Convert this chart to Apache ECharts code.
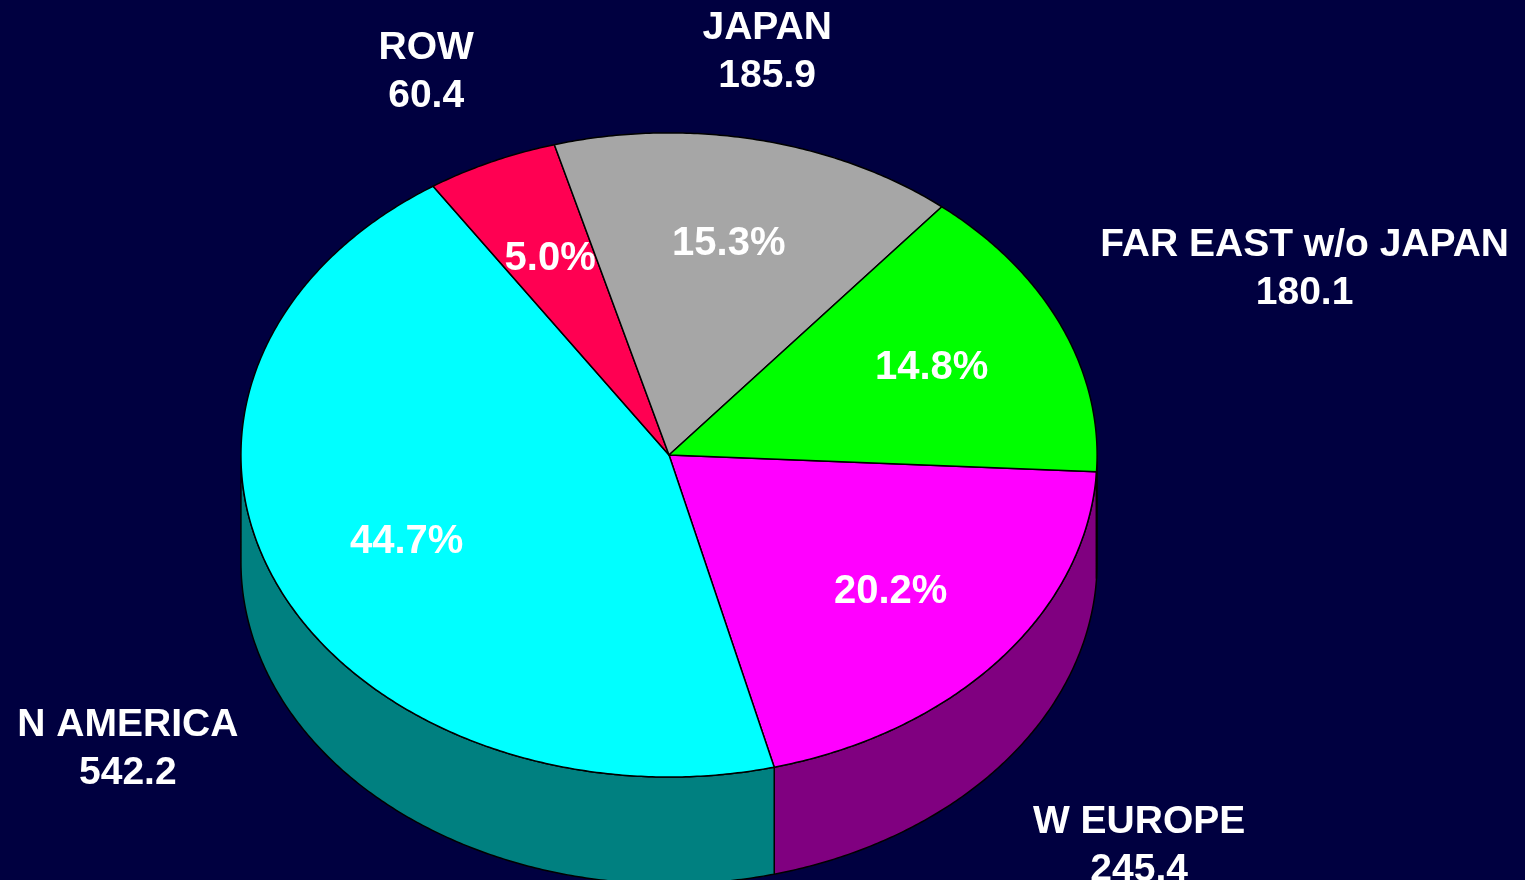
<!DOCTYPE html>
<html>
<head>
<meta charset="utf-8">
<script src="https://cdn.jsdelivr.net/npm/echarts@6/dist/echarts.min.js"></script>
<style>
  html, body { margin: 0; padding: 0; background: #000040; }
  #chartmain { width: 1525px; height: 880px; }
</style>
</head>
<body>
<div id="chartmain"></div>
<script>
// slices listed clockwise, starting just below 3 o'clock
var names = ['W EUROPE', 'N AMERICA', 'ROW', 'JAPAN', 'FAR EAST w/o JAPAN'];
var values = [245.4, 542.2, 60.4, 185.9, 180.1];

var topColors = ['#FF00FF', '#00FFFF', '#FF0052', '#A6A6A6', '#00FF00'];
var sideColors = ['#800080', '#008080', '#800029', '#535353', '#008000'];

var total = values.reduce(function (a, b) { return a + b; }, 0);
var startDeg = 3;
var LABEL_FONT = 'bold 39px "Liberation Sans", Arial, sans-serif';
var PCT_FONT = 'bold 40px "Liberation Sans", Arial, sans-serif';

var measureCtx = document.createElement('canvas').getContext('2d');
function textWidth(lines, font) {
    measureCtx.font = font;
    return Math.max.apply(null, lines.map(function (t) { return measureCtx.measureText(t).width; }));
}

function arcPoints(cx, cy, rx, ry, a1, a2, dy) {
    var pts = [];
    var n = Math.max(2, Math.ceil(Math.abs(a2 - a1) / 0.5));
    for (var k = 0; k <= n; k++) {
        var a = (a1 + (a2 - a1) * k / n) * Math.PI / 180;
        pts.push([cx + rx * Math.cos(a), cy + ry * Math.sin(a) + dy]);
    }
    return pts;
}

function renderSlice(params, api) {
    var i = params.dataIndex;
    var W = api.getWidth(), H = api.getHeight();
    var cx = W * 0.4387, cy = H * 0.517;
    var rx = W * 0.2807, ry = H * 0.366, depth = H * 0.1216;

    var before = 0;
    for (var j = 0; j < i; j++) before += values[j];
    var a1 = startDeg + before / total * 360;
    var a2 = startDeg + (before + values[i]) / total * 360;
    var mid = (a1 + a2) / 2 * Math.PI / 180;

    var children = [];
    // side wall: only the part facing the viewer
    [[0, 180], [360, 540]].forEach(function (r) {
        var s = Math.max(a1, r[0]), e = Math.min(a2, r[1]);
        if (e > s) {
            var pts = arcPoints(cx, cy, rx, ry, s, e, 0)
                .concat(arcPoints(cx, cy, rx, ry, e, s, depth));
            children.push({
                type: 'polygon',
                shape: {points: pts},
                style: {fill: sideColors[i], stroke: '#000', lineWidth: 1.5}
            });
        }
    });
    // top face
    children.push({
        type: 'polygon',
        shape: {points: [[cx, cy]].concat(arcPoints(cx, cy, rx, ry, a1, a2, 0))},
        style: {fill: topColors[i], stroke: '#000', lineWidth: 1.5, lineJoin: 'round'}
    });

    var c = Math.cos(mid), s = Math.sin(mid);
    children.push({
        type: 'text',
        z2: 10,
        x: cx + c * rx * 0.67,
        y: cy + s * ry * 0.67,
        style: {
            text: (values[i] / total * 100).toFixed(1) + '%',
            fill: '#fff', font: PCT_FONT,
            align: 'center', verticalAlign: 'middle'
        }
    });

    // name + value, lines centred, block pushed off the pie edge
    var lines = [names[i], values[i].toFixed(1)];
    var half = textWidth(lines, LABEL_FONT) / 2;
    var lx = cx + c * rx * 1.1;
    if (Math.abs(c) >= 0.3) lx += (c > 0 ? half : -half);
    var ky = 1.27 + 0.2 * c * c;
    children.push({
        type: 'text',
        z2: 10,
        x: lx,
        y: cy + s * ry * ky + (s > 0 ? depth : 0),
        style: {
            text: lines.join('\n'),
            fill: '#fff', font: LABEL_FONT,
            lineHeight: 48,
            align: 'center', verticalAlign: 'middle'
        }
    });
    return {type: 'group', children: children};
}

var myChart = echarts.init(document.getElementById('chartmain'));
var option = {
    backgroundColor: '#000040',
    animation: false,
    series: [{
        type: 'custom',
        coordinateSystem: 'none',
        silent: true,
        renderItem: renderSlice,
        data: values.map(function (v, i) { return {name: names[i], value: v}; })
    }]
};
myChart.setOption(option);
</script>
</body>
</html>
